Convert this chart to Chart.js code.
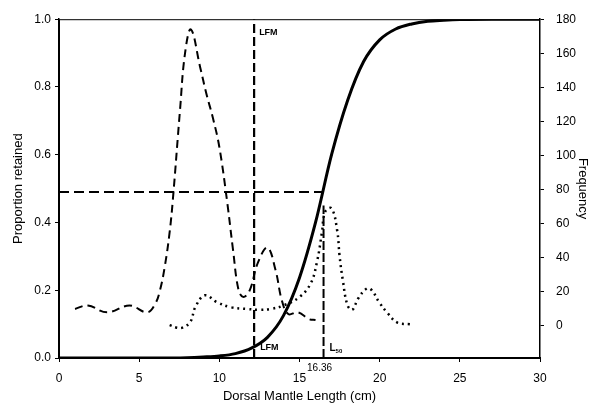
<!DOCTYPE html>
<html>
<head>
<meta charset="utf-8">
<script src="https://cdn.jsdelivr.net/npm/chart.js@4/dist/chart.umd.min.js"></script>
<style>
  html, body { margin: 0; padding: 0; background: #fff; }
  #wrap { width: 597px; height: 404px; }
</style>
</head>
<body>
<div id="wrap"><canvas id="c"></canvas></div>
<script>
// Curva de retención (logística) y distribuciones de frecuencia por talla.
var tallaLogistica = [0, 2, 4, 6, 8, 9, 10, 11, 12, 13, 14, 15, 16, 17, 18, 19, 20, 21, 22, 23, 24, 25, 27, 30];
var retenido = [0, 0, 0, 0, 0.001, 0.003, 0.006, 0.013, 0.029, 0.061, 0.125, 0.237, 0.40, 0.60, 0.76, 0.875, 0.939, 0.971, 0.986, 0.994, 0.997, 0.999, 1.0, 1.0];

var tallaFrecA = [1.0, 1.8, 3.0, 4.4, 5.5, 6.0, 6.3, 6.6, 6.9, 7.1, 7.55, 7.86, 8.23, 8.8, 9.2, 9.6, 10.0, 10.5, 10.85, 11.2, 11.5, 11.9, 12.4, 13.0, 13.5, 13.9, 14.3, 14.9, 15.6, 16.0];
var frecA = [10, 12, 8, 12, 8, 13, 21, 35, 55, 74, 127, 160, 174, 152, 136, 122, 105, 72, 45, 21, 17, 21, 37, 46, 33, 15, 7, 8, 4, 3.5];

var tallaFrecB = [6.9, 7.35, 7.7, 8.2, 8.5, 9.1, 9.85, 10.7, 11.7, 12.5, 13.2, 14.0, 15.0, 15.7, 16.1, 16.4, 16.6, 17.0, 17.35, 17.5, 17.7, 18.0, 18.3, 18.65, 19.2, 19.5, 20.0, 20.5, 21.1, 21.9];
var frecB = [0.5, -1, -1, 2.5, 11, 18, 14, 11, 10, 9.5, 10, 12, 17, 25, 38, 55, 67, 69, 56, 41, 27, 12, 9.5, 16, 22, 21, 13.5, 7.5, 2, 1];

var lfm = 12.17;
var l50 = 16.5;
var l50Texto = '16.36';
var nivelMitad = 0.49;
var xTicks = [0, 5, 10, 15, 20, 25, 30];
var yTicks = [0, 0.2, 0.4, 0.6, 0.8, 1.0];
var frecTicks = [0, 20, 40, 60, 80, 100, 120, 140, 160, 180];

function pares(xs, ys) { return xs.map(function (x, i) { return { x: x, y: ys[i] }; }); }

var FUENTE = '"Liberation Sans", Arial, sans-serif';

// Textos y marco del área de datos
var anotaciones = {
  id: 'anotaciones',
  afterDatasetsDraw: function (chart) {
    var ctx = chart.ctx, a = chart.chartArea;
    var sx = chart.scales.x, sy = chart.scales.y;
    ctx.save();
    ctx.strokeStyle = '#000';
    ctx.lineWidth = 1;
    ctx.strokeRect(a.left + 0.5, a.top + 0.5, a.right - a.left - 1, a.bottom - a.top);
    ctx.fillStyle = '#000';
    ctx.textBaseline = 'middle';
    ctx.font = 'bold 9px ' + FUENTE;
    ctx.fillText('LFM', sx.getPixelForValue(lfm) + 5, a.top + 13);
    ctx.fillText('LFM', sx.getPixelForValue(lfm) + 6, sy.getPixelForValue(0) - 10);
    var xl = sx.getPixelForValue(l50) + 6;
    ctx.font = 'bold 10px ' + FUENTE;
    ctx.fillText('L', xl, sy.getPixelForValue(0) - 10);
    ctx.font = 'bold 6px ' + FUENTE;
    ctx.fillText('50', xl + 6, sy.getPixelForValue(0) - 7);
    ctx.font = '10px ' + FUENTE;
    ctx.textAlign = 'center';
    ctx.fillText(l50Texto, sx.getPixelForValue(l50) - 4, a.bottom + 10);
    ctx.restore();
  }
};

var lineaBase = { showLine: true, pointRadius: 0, fill: false, borderColor: '#000' };

new Chart(document.getElementById('c').getContext('2d'), {
  type: 'scatter',
  data: {
    datasets: [
      Object.assign({ data: pares(tallaLogistica, retenido), yAxisID: 'y', borderWidth: 3, cubicInterpolationMode: 'monotone' }, lineaBase),
      Object.assign({ data: pares(tallaFrecA, frecA), yAxisID: 'y1', borderWidth: 2, borderDash: [8, 5], tension: 0.4 }, lineaBase),
      Object.assign({ data: pares(tallaFrecB, frecB), yAxisID: 'y1', borderWidth: 2.5, borderDash: [2, 4], tension: 0.4 }, lineaBase),
      Object.assign({ data: [{ x: lfm, y: 0 }, { x: lfm, y: 1 }], yAxisID: 'y', borderWidth: 2.2, borderDash: [9, 4] }, lineaBase),
      Object.assign({ data: [{ x: l50, y: 0 }, { x: l50, y: 0.45 }], yAxisID: 'y', borderWidth: 2, borderDash: [9, 3] }, lineaBase),
      Object.assign({ data: [{ x: 0, y: nivelMitad }, { x: 16.6, y: nivelMitad }], yAxisID: 'y', borderWidth: 2, borderDash: [10, 5] }, lineaBase)
    ]
  },
  options: {
    responsive: true,
    maintainAspectRatio: false,
    animation: false,
    layout: { padding: { top: 19, right: 3, left: 11, bottom: 0 } },
    plugins: { legend: { display: false }, tooltip: { enabled: false } },
    scales: {
      x: {
        type: 'linear', min: 0, max: 30,
        afterBuildTicks: function (s) { s.ticks = xTicks.map(function (v) { return { value: v }; }); },
        afterFit: function (s) { s.height = 46; },
        grid: { drawOnChartArea: false, tickLength: 4, color: '#000' },
        border: { color: '#000', width: 2 },
        ticks: { color: '#000', font: { family: FUENTE, size: 12 }, padding: 9, maxRotation: 0 },
        title: { display: true, text: 'Dorsal Mantle Length (cm)', color: '#000', font: { family: FUENTE, size: 13 }, padding: { top: 0, bottom: 0 } }
      },
      y: {
        type: 'linear', position: 'left', min: 0, max: 1,
        afterBuildTicks: function (s) { s.ticks = yTicks.map(function (v) { return { value: v }; }); },
        afterFit: function (s) { s.width = 48; },
        grid: { drawOnChartArea: false, tickLength: 4, color: '#000' },
        border: { color: '#000', width: 1.5 },
        ticks: { color: '#000', font: { family: FUENTE, size: 12 }, padding: 4, callback: function (v) { return v.toFixed(1); } },
        title: { display: true, text: 'Proportion retained', color: '#000', font: { family: FUENTE, size: 13 }, padding: { top: 0, bottom: 4 } }
      },
      y1: {
        type: 'linear', position: 'right', min: -18.8, max: 180,
        afterBuildTicks: function (s) { s.ticks = frecTicks.map(function (v) { return { value: v }; }); },
        afterFit: function (s) { s.width = 54; },
        grid: { drawOnChartArea: false, tickLength: 4, color: '#000' },
        border: { color: '#000', width: 1.5 },
        ticks: { color: '#000', font: { family: FUENTE, size: 12 }, padding: 12 },
        title: { display: true, text: 'Frequency', color: '#000', font: { family: FUENTE, size: 13 }, padding: { top: 4, bottom: 0 } }
      }
    }
  },
  plugins: [anotaciones]
});
</script>
</body>
</html>
